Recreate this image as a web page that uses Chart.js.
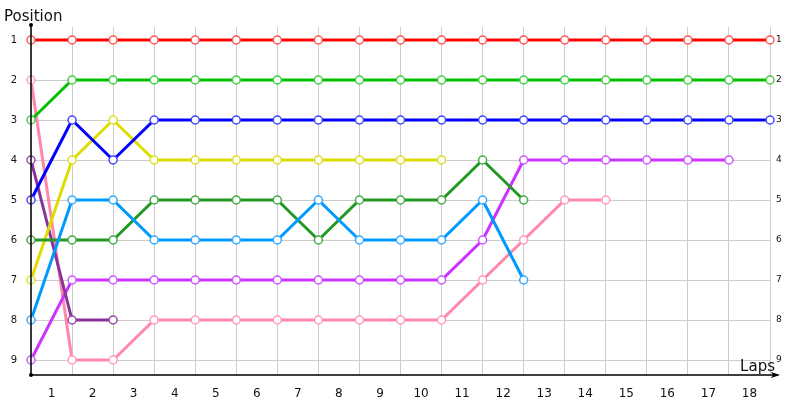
<!DOCTYPE html>
<html>
<head>
<meta charset="utf-8">
<script src="https://cdn.jsdelivr.net/npm/chart.js@4/dist/chart.umd.min.js"></script>
<style>
  html, body { margin: 0; padding: 0; background: #fff; }
  #wrap { width: 800px; height: 400px; }
</style>
</head>
<body>
<div id="wrap"><canvas id="chart" width="800" height="400"></canvas></div>
<script>
// Данные: позиция на каждом круге (круг 0 = старт)
const laps = [0, 1, 2, 3, 4, 5, 6, 7, 8, 9, 10, 11, 12, 13, 14, 15, 16, 17, 18];
const lapLabels = ['1', '2', '3', '4', '5', '6', '7', '8', '9', '10', '11', '12', '13', '14', '15', '16', '17', '18'];
const positions = [1, 2, 3, 4, 5, 6, 7, 8, 9];

const red = [1, 1, 1, 1, 1, 1, 1, 1, 1, 1, 1, 1, 1, 1, 1, 1, 1, 1, 1];
const green = [3, 2, 2, 2, 2, 2, 2, 2, 2, 2, 2, 2, 2, 2, 2, 2, 2, 2, 2];
const blue = [5, 3, 4, 3, 3, 3, 3, 3, 3, 3, 3, 3, 3, 3, 3, 3, 3, 3, 3];
const yellow = [7, 4, 3, 4, 4, 4, 4, 4, 4, 4, 4];
const darkGreen = [6, 6, 6, 5, 5, 5, 5, 6, 5, 5, 5, 4, 5];
const lightBlue = [8, 5, 5, 6, 6, 6, 6, 5, 6, 6, 6, 5, 7];
const purple = [9, 7, 7, 7, 7, 7, 7, 7, 7, 7, 7, 6, 4, 4, 4, 4, 4, 4];
const pink = [2, 9, 9, 8, 8, 8, 8, 8, 8, 8, 8, 7, 6, 5, 5];
const darkPurple = [4, 8, 8];

const series = [
    { data: red, line: '#ff0000', point: '#ff5555' },
    { data: green, line: '#00c000', point: '#44cc44' },
    { data: blue, line: '#0000ff', point: '#4444ff' },
    { data: lightBlue, line: '#0099ff', point: '#33aaff' },
    { data: darkGreen, line: '#229922', point: '#44aa44' },
    { data: yellow, line: '#dddd00', point: '#dddd22' },
    { data: darkPurple, line: '#883399', point: '#9944aa' },
    { data: purple, line: '#cc33ff', point: '#cc55ff' },
    { data: pink, line: '#ff88aa', point: '#ff99bb' }
];

const datasets = series.map(s => ({
    data: s.data.map((y, i) => ({ x: laps[i], y })),
    borderColor: s.line,
    borderWidth: 3,
    pointRadius: 4,
    pointHoverRadius: 4,
    pointBorderWidth: 1.5,
    pointBackgroundColor: '#ffffff',
    pointBorderColor: s.point,
    tension: 0,
    fill: false,
    clip: false
}));

// Оси со стрелкой и подписи "Position" / "Laps"
const axesPlugin = {
    id: 'axesPlugin',
    afterDraw(chart) {
        const ctx = chart.ctx;
        const area = chart.chartArea;
        const x0 = area.left;
        const y0 = area.bottom;
        ctx.save();
        ctx.strokeStyle = '#000';
        ctx.fillStyle = '#000';
        ctx.lineWidth = 1.5;
        ctx.beginPath();
        ctx.moveTo(x0, area.top - 2);
        ctx.lineTo(x0, y0);
        ctx.lineTo(area.right + 8, y0);
        ctx.stroke();
        ctx.beginPath();
        ctx.arc(x0, area.top - 2, 2, 0, Math.PI * 2);
        ctx.arc(x0, y0, 2, 0, Math.PI * 2);
        ctx.fill();
        ctx.beginPath();
        ctx.moveTo(area.right + 10, y0);
        ctx.lineTo(area.right + 1, y0 - 3);
        ctx.lineTo(area.right + 3, y0);
        ctx.lineTo(area.right + 1, y0 + 3);
        ctx.closePath();
        ctx.fill();

        ctx.font = '15px "DejaVu Sans"';
        ctx.fillStyle = '#111';
        ctx.textAlign = 'left';
        ctx.textBaseline = 'alphabetic';
        ctx.fillText('Position', 4, 21);
        ctx.textAlign = 'right';
        ctx.fillText('Laps', area.right + 5, y0 - 4);
        ctx.restore();
    }
};

new Chart(document.getElementById('chart'), {
    type: 'line',
    data: { datasets },
    options: {
        responsive: false,
        animation: false,
        layout: { padding: { top: 27, left: 0, right: 0, bottom: 0 } },
        plugins: { legend: { display: false }, tooltip: { enabled: false } },
        scales: {
            x: {
                type: 'linear',
                min: 0,
                max: 18,
                position: 'bottom',
                afterBuildTicks: scale => { scale.ticks = lapLabels.map((l, i) => ({ value: i + 0.5 })); },
                afterFit: scale => { scale.height = 25; },
                ticks: {
                    callback: (v, i) => lapLabels[i],
                    color: '#111',
                    font: { family: 'DejaVu Sans', size: 12 },
                    padding: 4,
                    maxRotation: 0,
                    autoSkip: false
                },
                grid: { display: false },
                border: { display: false }
            },
            xg: {
                type: 'linear',
                min: 0,
                max: 18,
                position: 'bottom',
                afterBuildTicks: scale => { scale.ticks = laps.map(v => ({ value: v })); },
                afterFit: scale => { scale.height = 0; },
                ticks: { display: false },
                grid: { color: '#cccccc', lineWidth: 1, drawTicks: false },
                border: { display: false }
            },
            y: {
                type: 'linear',
                reverse: true,
                min: 0.675,
                max: 9.375,
                position: 'left',
                afterBuildTicks: scale => { scale.ticks = positions.map(v => ({ value: v })); },
                afterFit: scale => { scale.width = 31; },
                ticks: {
                    color: '#111',
                    font: { family: 'DejaVu Sans', size: 10 },
                    padding: 14
                },
                grid: { color: '#cccccc', lineWidth: 1, drawTicks: false },
                border: { display: false }
            },
            y2: {
                type: 'linear',
                reverse: true,
                min: 0.675,
                max: 9.375,
                position: 'right',
                afterBuildTicks: scale => { scale.ticks = positions.map(v => ({ value: v })); },
                afterFit: scale => { scale.width = 30; },
                ticks: {
                    color: '#111',
                    font: { family: 'DejaVu Sans', size: 9 },
                    padding: 6
                },
                grid: { display: false, drawTicks: false },
                border: { display: false }
            }
        }
    },
    plugins: [axesPlugin]
});
</script>
</body>
</html>
